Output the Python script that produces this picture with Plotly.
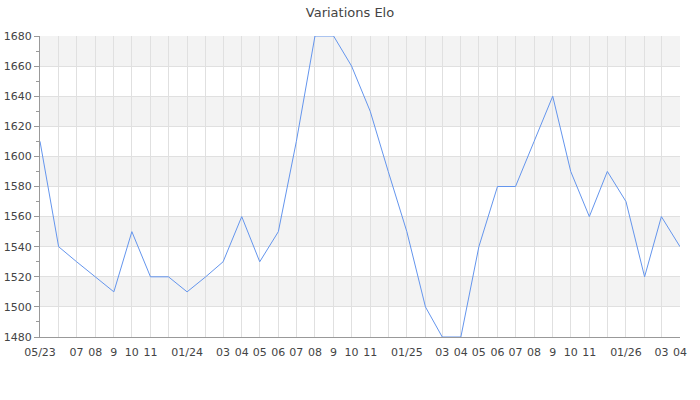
import plotly.graph_objects as go

# Mois (un point par mois)
months = [
    "2023-05-01", "2023-06-01", "2023-07-01", "2023-08-01", "2023-09-01", "2023-10-01",
    "2023-11-01", "2023-12-01", "2024-01-01", "2024-02-01", "2024-03-01", "2024-04-01",
    "2024-05-01", "2024-06-01", "2024-07-01", "2024-08-01", "2024-09-01", "2024-10-01",
    "2024-11-01", "2024-12-01", "2025-01-01", "2025-02-01", "2025-03-01", "2025-04-01",
    "2025-05-01", "2025-06-01", "2025-07-01", "2025-08-01", "2025-09-01", "2025-10-01",
    "2025-11-01", "2025-12-01", "2026-01-01", "2026-02-01", "2026-03-01", "2026-04-01",
]
elo = [
    1610, 1540, 1530, 1520, 1510, 1550,
    1520, 1520, 1510, 1520, 1530, 1560,
    1530, 1550, 1610, 1680, 1680, 1660,
    1630, 1590, 1550, 1500, 1480, 1480,
    1540, 1580, 1580, 1610, 1640, 1590,
    1560, 1590, 1570, 1520, 1560, 1540,
]
tick_labels = [
    "05/23", "", "07", "08", "9", "10",
    "11", "", "01/24", "", "03", "04",
    "05", "06", "07", "08", "9", "10",
    "11", "", "01/25", "", "03", "04",
    "05", "06", "07", "08", "9", "10",
    "11", "", "01/26", "", "03", "04",
]
y_min, y_max, y_step = 1480, 1680, 20

fig = go.Figure()
fig.add_trace(go.Scatter(
    x=months,
    y=elo,
    mode='lines',
    line=dict(color='#6495ED', width=1),
    cliponaxis=False,
    showlegend=False,
))

# Bandes alternées
shapes = []
for i, y0 in enumerate(range(y_min, y_max, y_step)):
    if i % 2 == 1:
        shapes.append(dict(
            type='rect', xref='paper', yref='y', x0=0, x1=1,
            y0=y0, y1=y0 + y_step, fillcolor='#f3f3f3',
            line_width=0, layer='below',
        ))

fig.update_layout(
    title=dict(text='Variations Elo', x=0.5, xanchor='center', y=0.97, yanchor='middle',
               font=dict(size=13, color='#444')),
    width=700,
    height=400,
    margin=dict(l=40, r=20, t=36, b=63),
    paper_bgcolor='white',
    plot_bgcolor='white',
    font=dict(family='DejaVu Sans', size=11, color='#444'),
    shapes=shapes,
    xaxis=dict(
        type='date',
        range=[months[0], months[-1]],
        tickmode='array',
        tickvals=months,
        ticktext=tick_labels,
        tickangle=0,
        showgrid=True,
        gridcolor='#e0e0e0',
        gridwidth=1,
        showline=True,
        linecolor='#999',
        ticks='outside',
        ticklen=5,
        tickcolor='rgba(0,0,0,0)',
        zeroline=False,
        automargin=False,
        layer='above traces',
    ),
    yaxis=dict(
        range=[y_min, y_max],
        dtick=y_step,
        showgrid=True,
        gridcolor='#e0e0e0',
        showline=True,
        linecolor='#999',
        ticks='outside',
        ticklen=5,
        tickcolor='#999',
        minor=dict(ticks='outside', ticklen=3, dtick=10, tickcolor='#999', showgrid=False),
        zeroline=False,
        automargin=False,
        layer='above traces',
    ),
)

fig.write_html("out.html", config={"displayModeBar": False},
               post_script="document.body.style.margin='0';")
